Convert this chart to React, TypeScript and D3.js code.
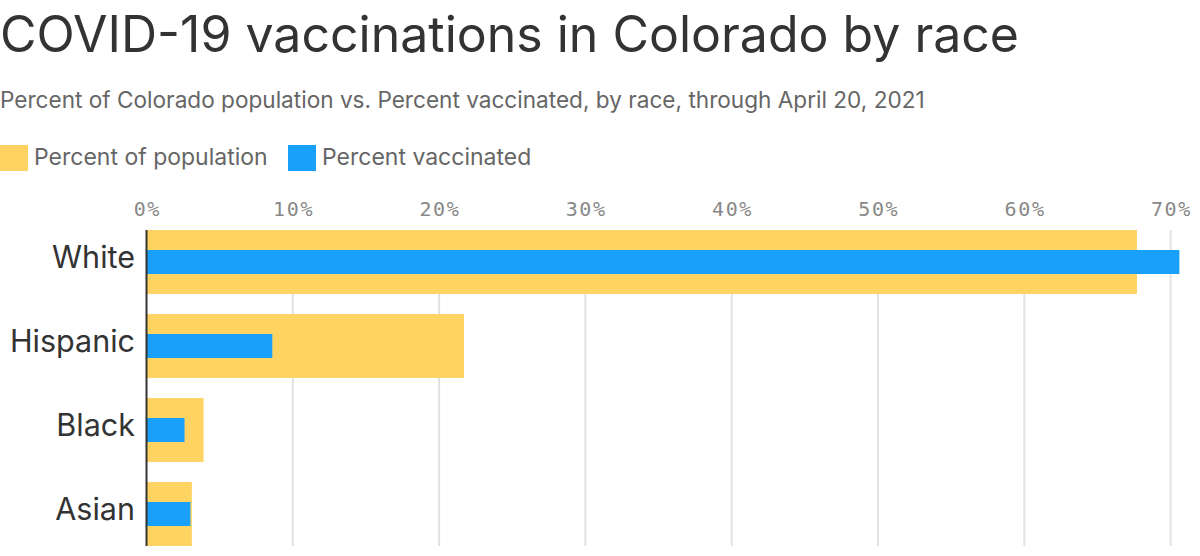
import React, { useEffect } from "react";
import * as d3 from "d3";

const races = ["White", "Hispanic", "Black", "Asian"];
const populationPct = [67.7, 21.7, 3.9, 3.1];
const vaccinatedPct = [70.6, 8.6, 2.6, 3.0];
const ticks = [0, 10, 20, 30, 40, 50, 60, 70];

const W = 1200;
const H = 556;
const sans = "Inter, 'Noto Sans', sans-serif";
const mono = "'DejaVu Sans Mono', 'Liberation Mono', monospace";

const App: React.FC = () => {
  useEffect(() => {
    document.body.style.margin = "0";
  }, []);

  const x = d3.scaleLinear().domain([0, 70]).range([146.5, 1170.6]);
  const y = d3
    .scaleBand<string>()
    .domain(races)
    .range([220, 556])
    .paddingInner(20 / 84)
    .paddingOuter(10 / 84);

  const bw = y.bandwidth();
  const blueH = 24;
  const top = y(races[0])!;
  const bottom = y(races[races.length - 1])! + bw;

  return (
    <svg width={W} height={H} style={{ display: "block" }}>
      <text x={0} y={52} fontFamily={sans} fontSize={50} fill="#333">
        COVID-19 vaccinations in Colorado by race
      </text>
      <text x={0} y={108} fontFamily={sans} fontSize={22.6} fill="#666">
        Percent of Colorado population vs. Percent vaccinated, by race, through April 20, 2021
      </text>

      {/* legend */}
      <rect x={0} y={145} width={28} height={26} fill="#ffd362" />
      <text x={34} y={165} fontFamily={sans} fontSize={23} fill="#666">
        Percent of population
      </text>
      <rect x={288} y={145} width={28} height={26} fill="#18a0fb" />
      <text x={322} y={165} fontFamily={sans} fontSize={23} fill="#666">
        Percent vaccinated
      </text>

      {/* grid + ticks */}
      {ticks.map((t) => (
        <g key={t}>
          {t > 0 && (
            <line
              x1={x(t)}
              x2={x(t)}
              y1={top}
              y2={bottom}
              stroke="#e2e2e2"
              strokeWidth={2}
            />
          )}
          <text
            x={x(t) + 0.8}
            y={216}
            textAnchor="middle"
            fontFamily={mono}
            fontSize={20}
            letterSpacing={1.6}
            fill="#888"
          >
            {t}%
          </text>
        </g>
      ))}

      {/* bars */}
      {races.map((r, i) => (
        <g key={r}>
          <rect
            x={x(0)}
            y={y(r)!}
            width={x(populationPct[i]) - x(0)}
            height={bw}
            fill="#ffd362"
          />
          <rect
            x={x(0)}
            y={y(r)! + (bw - blueH) / 2}
            width={x(vaccinatedPct[i]) - x(0)}
            height={blueH}
            fill="#18a0fb"
          />
          <text
            x={135}
            y={y(r)! + bw / 2 + 6}
            textAnchor="end"
            fontFamily={sans}
            fontSize={30.5}
            fill="#333"
          >
            {r}
          </text>
        </g>
      ))}

      <line x1={x(0)} x2={x(0)} y1={top} y2={bottom} stroke="#333" strokeWidth={2} />
    </svg>
  );
};

export default App;
